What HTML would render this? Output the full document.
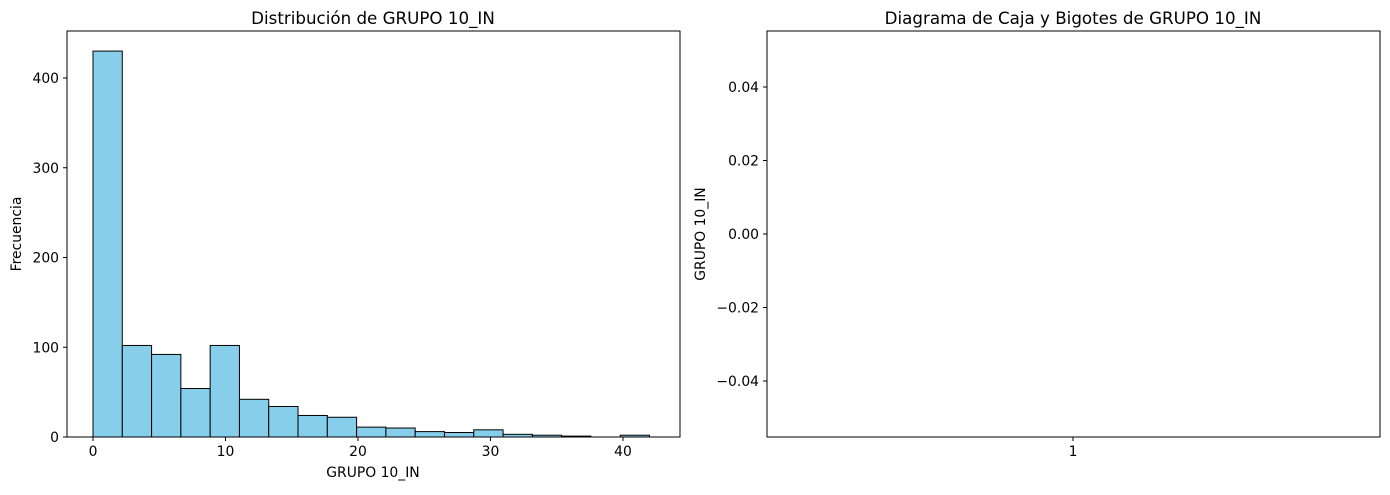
<!DOCTYPE html>
<html><head><meta charset="utf-8"><style>
body{margin:0;background:#fff;font-family:"Liberation Sans","DejaVu Sans",sans-serif;}
svg text{font-family:"DejaVu Sans","Liberation Sans",sans-serif;font-size:13.9px;fill:#000}
</style></head><body>
<svg id="c" width="1390" height="490" xmlns="http://www.w3.org/2000/svg"></svg>
<script>
const binStart=0, binEnd=42;
const counts=[430,102,92,54,102,42,34,24,22,11,10,6,5,8,3,2,1,0,2];
const xTicks=[0,10,20,30,40];
const yTicks=[0,100,200,300,400];
const boxYTicks=[0.04,0.02,0.00,-0.02,-0.04];
const boxYTickLabels=["0.04","0.02","0.00","\u22120.02","\u22120.04"];
const boxXTicks=["1"];
const NS="http://www.w3.org/2000/svg";
const svg=document.getElementById('c');
function mk(t,a,txt){const e=document.createElementNS(NS,t);for(const k in a)e.setAttribute(k,a[k]);if(txt!=null)e.textContent=txt;svg.appendChild(e);return e;}
const L={x0:67,x1:680,y0:437,y1:31};
const xs=v=>93+(v-0)*(623-93)/40;
const ys=v=>437-v*(437-78)/400;
const bw=(binEnd-binStart)/counts.length;
counts.forEach((c,i)=>{
  const r=mk('rect',{x:xs(binStart+i*bw),y:ys(c),width:xs(binStart+(i+1)*bw)-xs(binStart+i*bw),height:ys(0)-ys(c),fill:'#87ceeb',stroke:'#000','stroke-width':1});
  
  
});
const f1=mk('rect',{x:L.x0,y:L.y1,width:L.x1-L.x0,height:L.y0-L.y1,fill:'none',stroke:'#000','stroke-width':1});

xTicks.forEach(v=>{mk('line',{x1:xs(v),x2:xs(v),y1:437,y2:441,stroke:'#000'});
  const t=mk('text',{x:xs(v),y:456,'text-anchor':'middle'},v);});
yTicks.forEach(v=>{mk('line',{x1:63,x2:67,y1:ys(v),y2:ys(v),stroke:'#000'});
  const t=mk('text',{x:59,y:ys(v)+5,'text-anchor':'end'},v);});
let t=mk('text',{x:373,y:24,'text-anchor':'middle'},'Distribución de GRUPO 10_IN');t.style.fontSize='16.7px';
t=mk('text',{x:373,y:477,'text-anchor':'middle'},'GRUPO 10_IN');
t=mk('text',{x:21,y:234,'text-anchor':'middle',transform:'rotate(-90 21 234)'},'Frecuencia');
const R={x0:767,x1:1380,y0:437,y1:31};
const bys=v=>234-v*(234-87)/0.04;
const f2=mk('rect',{x:R.x0,y:R.y1,width:R.x1-R.x0,height:R.y0-R.y1,fill:'none',stroke:'#000','stroke-width':1});

boxYTicks.forEach((v,i)=>{mk('line',{x1:763,x2:767,y1:bys(v),y2:bys(v),stroke:'#000'});
  const t=mk('text',{x:759,y:bys(v)+5,'text-anchor':'end'},boxYTickLabels[i]);});
boxXTicks.forEach((l,i)=>{const x=1073;mk('line',{x1:x,x2:x,y1:437,y2:441,stroke:'#000'});
  const t=mk('text',{x:x,y:456,'text-anchor':'middle'},l);});
t=mk('text',{x:1073,y:24,'text-anchor':'middle'},'Diagrama de Caja y Bigotes de GRUPO 10_IN');t.style.fontSize='16.7px';
t=mk('text',{x:705,y:234,'text-anchor':'middle',transform:'rotate(-90 705 234)'},'GRUPO 10_IN');
</script>
</body></html>
